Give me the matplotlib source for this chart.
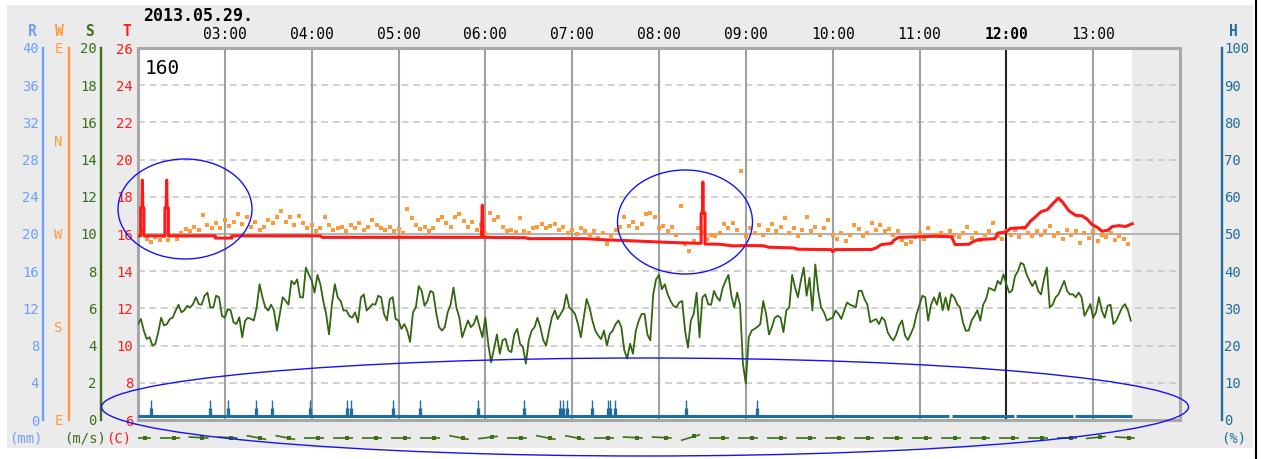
import numpy as np
import matplotlib
matplotlib.use('Agg')
import matplotlib.pyplot as plt
from matplotlib.patches import Ellipse, Rectangle
from matplotlib.lines import Line2D

plt.rcParams['font.family'] = ['DejaVu Sans Mono', 'DejaVu Sans']

W, H = 1261, 459


def fx(px):
    return px / W


def fy(py):
    return 1 - py / H


# ---------------- data ----------------
date_text = '2013.05.29.'
station_id = '160'
hour_pos = [3, 4, 5, 6, 7, 8, 9, 10, 11, 12, 13]
hour_labels = ['03:00', '04:00', '05:00', '06:00', '07:00', '08:00',
               '09:00', '10:00', '11:00', '12:00', '13:00']
x_start, x_end = 2.0, 14.0
data_end = 13.45

# wind speed (m/s): readings on the 4-min marks from 02:00 ...
speed_step_min = 4
wind_speed_a = [5.16, 4.81, 4.45, 4.1, 5.5, 5.16, 5.5, 6.2, 5.9, 6.05,
                6.6, 6.2, 6.85, 6.05, 6.6, 5.5, 5.9, 5.16, 4.45, 5.5,
                5.35, 7.3, 6.05, 6.2, 4.81, 6.6, 6.2, 7.3, 6.6, 8.2,
                7.5, 7.8, 6.4, 4.6, 7.3,
                6.4, 5.9, 5.5, 5.25, 6.75, 6.05, 6.2, 6.6, 5.35, 6.6,
                5.35, 5.16, 4.2, 6.05, 6.95, 6.4, 6.85, 5.0, 5.0, 6.2,
                6.05, 4.45, 5.35, 5.16, 5.0, 5.5, 3.1, 4.6, 4.3, 3.75,
                4.6, 4.1, 3.03, 4.8,
                5.5, 4.3, 4.8, 5.9, 5.7, 6.75, 5.9, 5.16, 5.5, 6.05,
                4.8, 4.35, 4.0, 4.8, 5.35, 3.75, 4.1, 4.8, 5.7, 4.6,
                6.75, 7.8, 7.3, 6.4, 6.05, 6.4, 3.9, 5.7, 4.45, 6.75,
                6.2, 6.6, 7.1, 7.8, 6.05,
                6.2, 1.95, 4.8, 5.0, 6.4, 4.6, 5.5, 5.5, 5.9, 7.8,
                6.6, 8.2, 7.65, 8.36, 6.05, 5.35, 5.5, 5.7, 5.9, 6.2,
                6.05, 6.95, 6.2, 5.35, 5.16, 5.35, 4.45, 4.6, 5.35, 4.3,
                5.0, 6.2, 6.6, 6.2,
                6.2, 5.9, 5.9, 6.6, 6.05, 4.8, 5.35, 5.9, 6.2, 7.1,
                6.95, 7.3, 7.3, 6.95, 8.0, 8.36, 7.48, 7.48, 6.75, 8.2,
                6.2, 6.75, 7.48, 6.75, 6.6, 6.6, 5.9, 5.5, 6.6, 5.5,
                6.2, 5.35, 6.05, 5.9]
# ... and the readings 2 min after each of them
wind_speed_b = [5.43, 4.36, 4.0, 4.72, 5.08, 5.43, 5.88, 5.79, 6.14, 6.23,
                6.23, 6.68, 6.05, 6.68, 5.6, 5.96, 5.25, 5.52, 5.34, 5.43,
                6.05, 6.59, 5.88, 5.88, 5.7, 6.41, 7.48, 7.56, 6.59, 7.83,
                6.85, 7.3, 5.7, 6.23, 6.59,
                5.88, 5.6, 5.79, 6.59, 5.88, 6.23, 6.68, 5.7, 6.5, 5.43,
                4.9, 4.81, 5.79, 7.2, 6.14, 6.94, 5.79, 4.81, 5.79, 7.12,
                5.52, 4.9, 4.99, 5.6, 4.45, 4.1, 3.83, 3.56, 4.36, 3.65,
                4.9, 3.92, 4.28, 4.99,
                4.99, 4.0, 5.52, 5.43, 5.96, 6.05, 5.7, 4.45, 6.5, 5.34,
                4.54, 4.81, 4.63, 5.16, 4.99, 3.3, 3.56, 5.34, 5.7, 4.28,
                7.56, 7.03, 6.76, 6.14, 6.32, 4.81, 5.34, 6.85, 6.59, 6.23,
                6.94, 6.41, 7.48, 6.68, 6.85,
                3.03, 4.45, 4.9, 5.16, 5.7, 4.99, 5.6, 4.72, 6.05, 7.12,
                7.48, 6.68, 5.88, 6.94, 5.79, 5.43, 5.88, 5.43, 6.32, 6.14,
                6.94, 6.5, 5.25, 5.43, 5.52, 4.72, 4.28, 5.08, 4.54, 4.63,
                5.7, 6.68, 5.34, 6.59,
                6.85, 6.59, 6.76, 6.23, 5.25, 4.81, 5.6, 5.34, 6.5, 7.03,
                7.48, 7.83, 6.85, 7.74, 8.45, 7.83, 7.2, 6.94, 7.56, 6.05,
                6.59, 7.12, 6.94, 6.76, 6.85, 5.6, 6.23, 5.79, 5.88, 6.14,
                5.16, 5.7, 6.23, 5.34]

# wind direction (deg), one reading every 3 min from 02:00
dir_step_min = 3
wind_dir = [271, 274, 265, 262, 267, 264, 268, 264, 269, 265,
            271, 275, 273, 277, 274, 288, 279, 276, 281, 276,
            284, 278, 282, 289, 280, 286, 277, 282, 274, 277,
            284, 281, 286, 292, 282, 286, 279, 287, 281, 276,
            279, 273, 276, 286, 279, 274,
            276, 277, 273, 279, 276, 281, 274, 277, 284, 279,
            276, 274, 277, 273, 275, 271, 294, 285, 279, 275,
            277, 273, 276, 284, 286, 281, 277, 286, 289, 283,
            277, 282, 274, 279, 271, 290, 284, 286, 277, 273,
            274, 272, 285, 273, 271, 276,
            277, 280, 276, 278, 280, 274, 277, 271, 274, 270,
            276, 273, 269, 273, 266, 271, 260, 268, 274, 277,
            286, 278, 282, 276, 280, 289, 290, 286, 276, 278,
            273, 277, 269, 297, 260, 254, 263, 276, 271, 265,
            269, 268, 271, 280, 276, 281,
            274, 331, 268, 276, 271, 279, 269, 274, 280, 273,
            277, 285, 271, 276, 268, 274, 286, 273, 277, 269,
            276, 284, 269, 265, 271, 263, 269, 279, 275, 268,
            271, 281, 274, 279, 273, 275, 269, 273, 264, 260,
            262, 267, 271, 265, 276, 269,
            269, 271, 268, 273, 269, 267, 271, 277, 266, 271,
            264, 269, 273, 281, 268, 265, 273, 269, 274, 267,
            276, 271, 268, 273, 269, 273, 278, 268, 271, 265,
            274, 269, 273, 261, 271, 266, 273, 263, 269, 267,
            271, 264, 268, 265, 260]

# temperature (C)
temp_t = [2.00, 2.03, 2.03, 2.045, 2.05, 2.055, 2.068, 2.068,
          2.31, 2.31, 2.325, 2.33, 2.335, 2.35, 2.35,
          2.89, 2.89, 3.08, 3.08, 4.10, 4.12,
          5.955, 5.965, 5.975,
          6.46, 6.5, 7.15, 7.4, 7.6, 7.75, 8.1, 8.45,
          8.485, 8.485, 8.5, 8.505, 8.51, 8.53, 8.53,
          8.7, 8.85, 9.0, 9.2, 9.26, 9.55, 9.6, 9.98, 10.0, 10.03,
          10.45, 10.5, 10.56, 10.68, 10.7, 10.76, 11.18, 11.37, 11.41, 11.57,
          11.62, 11.68, 11.87, 11.9, 11.99, 12.05, 12.22, 12.28, 12.33, 12.4,
          12.47, 12.55, 12.6, 12.65, 12.72, 12.8, 12.87, 12.93, 12.99, 13.05,
          13.1, 13.17, 13.22, 13.3, 13.37, 13.45]
temp_v = [15.9, 15.9, 17.4, 17.4, 18.9, 17.4, 17.4, 15.9,
          15.9, 17.4, 17.4, 18.9, 17.4, 17.4, 15.9,
          15.9, 15.78, 15.78, 15.9, 15.9, 15.82,
          15.82, 17.55, 15.82,
          15.8, 15.75, 15.75, 15.68, 15.65, 15.62, 15.55, 15.5,
          15.5, 17.12, 17.12, 18.8, 17.12, 17.12, 15.46,
          15.45, 15.36, 15.38, 15.37, 15.29, 15.25, 15.18, 15.16, 15.05, 15.16,
          15.17, 15.25, 15.43, 15.5, 15.65, 15.82, 15.88, 15.85, 15.43, 15.45,
          15.6, 15.7, 15.75, 16.05, 16.1, 16.3, 16.35, 16.7, 16.9, 17.2,
          17.3, 17.7, 17.93, 17.7, 17.25, 17.0, 16.98, 16.8, 16.5, 16.35,
          16.15, 16.2, 16.4, 16.45, 16.4, 16.55]

# humidity (%)
hum_base = 1.0
hum_seg_start = [2.0, 11.37, 12.11, 12.79]
hum_seg_end = [11.34, 12.09, 12.77, 13.45]
hum_spike_t = [2.15, 2.83, 3.04, 3.36, 3.54, 3.98, 4.41, 4.45, 4.94, 5.25,
               5.92, 6.45, 6.86, 6.90, 6.94, 7.23, 7.41, 7.44, 7.49, 8.31, 9.13]
hum_spike_mid = 3.2
hum_spike_top = 5.3

# wind arrows every 20 min (direction in deg)
arrow_start = 2.03
arrow_step_min = 20
arrow_dir = [270, 270, 273, 273, 281, 281, 270, 270, 270, 270,
             270, 281, 263, 270, 281, 281, 270, 273, 273, 253,
             270, 270, 270, 270, 270, 270, 270, 270, 270, 270,
             270, 270, 270, 264, 273]

# ---------------- colours ----------------
C_R = '#6e9eff'
C_W = '#ff9a3c'
C_S = '#3a6f18'
C_T = '#ff1a1a'
C_H = '#1f6e9e'
BG = '#ebebeb'

fig = plt.figure(figsize=(W / 100, H / 100), dpi=100)
fig.patch.set_facecolor('white')
fig.add_artist(Rectangle((fx(7), fy(448)), fx(1253) - fx(7), fy(5) - fy(448),
                         transform=fig.transFigure, facecolor=BG,
                         edgecolor='none', zorder=-10))
fig.add_artist(Line2D([fx(1256), fx(1256)], [0, 1], transform=fig.transFigure,
                      color='black', lw=1.5))

# main axes (temperature scale)
ax = fig.add_axes([fx(138), fy(420), fx(1180) - fx(138), fy(48) - fy(420)])
ax.set_xlim(x_start, x_end)
ax.set_ylim(6, 26)
ax.set_facecolor('white')
ax.axvspan(data_end, x_end, color=BG, lw=0, zorder=0)
for v in range(8, 26, 2):
    if v == 16:
        ax.axhline(v, color='#b4b4b4', lw=1.5, zorder=1)
    else:
        ax.axhline(v, color='#c4c4c4', lw=1.1, ls=(0, (4.5, 3)), zorder=1)
for h in hour_pos:
    ax.axvline(h, color='#222222' if h == 12 else '#a0a0a0', lw=1.5, zorder=1)
for s in ax.spines.values():
    s.set_color('#a8a8a8')
    s.set_linewidth(2.2)
ax.set_yticks(range(6, 27, 2))
ax.tick_params(axis='y', length=0, pad=3.6, labelcolor=C_T, labelsize=10)
ax.set_xticks(hour_pos, hour_labels)
ax.xaxis.tick_top()
ax.tick_params(axis='x', length=0, pad=4, labelsize=10.5)
ax.get_xticklabels()[hour_pos.index(12)].set_fontweight('bold')


def twin(ylim):
    t = ax.twinx()
    t.set_ylim(*ylim)
    t.patch.set_visible(False)
    for sp in t.spines.values():
        sp.set_visible(False)
    t.set_yticks([])
    return t


def side_axis(ylim, side, offset_px, color, ticks, labels, pad_px):
    t = twin(ylim)
    sp = t.spines[side]
    sp.set_visible(True)
    sp.set_position(('outward', offset_px * 0.72))
    sp.set_color(color)
    sp.set_linewidth(1.7)
    if side == 'left':
        t.yaxis.tick_left()
    else:
        t.yaxis.tick_right()
    t.set_yticks(ticks, labels)
    t.tick_params(axis='y', length=0, pad=pad_px * 0.72, labelcolor=color,
                  labelsize=10)
    return t


axR = side_axis((0, 40), 'left', 95, C_R, range(0, 41, 4),
                [str(v) for v in range(0, 41, 4)], 4)
axH = side_axis((0, 100), 'right', 42, C_H, range(0, 101, 10),
                [str(v) for v in range(0, 101, 10)], 2)
axS = side_axis((0, 20), 'left', 37, C_S, range(0, 21, 2),
                [str(v) for v in range(0, 21, 2)], 4.3)
axW = side_axis((90, 450), 'left', 69, C_W, [90, 180, 270, 360, 450],
                ['E', 'S', 'W', 'N', 'E'], 6.5)
axT = twin((6, 26))

# humidity
for a, b in zip(hum_seg_start, hum_seg_end):
    axH.plot([a, b], [hum_base, hum_base], color=C_H, lw=2.2,
             solid_capstyle='butt')
axH.vlines(hum_spike_t, hum_base, hum_spike_mid, color=C_H, lw=2.4)
axH.vlines(hum_spike_t, hum_base, hum_spike_top, color=C_H, lw=1.0)

# wind speed: merge both reading sets in time order
t_a = x_start + np.arange(len(wind_speed_a)) * speed_step_min / 60
t_b = t_a + speed_step_min / 2 / 60
t_speed = np.column_stack([t_a, t_b]).ravel()
v_speed = np.column_stack([wind_speed_a, wind_speed_b]).ravel()
axS.plot(t_speed, v_speed, color='#336611', lw=1.3)

# wind direction
t_dir = x_start + np.arange(len(wind_dir)) * dir_step_min / 60
axW.scatter(t_dir, wind_dir, marker='s', s=9, color=C_W, linewidths=0)

# temperature
axT.plot(temp_t, temp_v, color=C_T, lw=2.2)

# axis titles and units
for txt, px, col in [('R', 32, C_R), ('W', 59, C_W), ('S', 90, C_S),
                     ('T', 127, C_T), ('H', 1233, C_H)]:
    fig.text(fx(px), fy(32), txt, color=col, fontweight='bold', ha='center',
             va='center', fontsize=10.5)
fig.text(fx(26), fy(438), '(mm)', color=C_R, ha='center', va='center', fontsize=10)
fig.text(fx(85), fy(438), '(m/s)', color=C_S, ha='center', va='center', fontsize=10)
fig.text(fx(119), fy(438), '(C)', color=C_T, ha='center', va='center', fontsize=10)
fig.text(fx(1234), fy(438), '(%)', color=C_H, ha='center', va='center', fontsize=10)

fig.text(fx(143), fy(16), date_text, fontweight='bold', fontsize=12,
         ha='left', va='center')
fig.text(fx(145), fy(69), station_id, fontsize=14, ha='left', va='center')

# wind arrows strip
axA = fig.add_axes([fx(138), fy(447), fx(1180) - fx(138), fy(428) - fy(447)])
axA.set_xlim(x_start, x_end)
axA.set_ylim(-9.5, 9.5)
axA.axis('off')
sx = (x_end - x_start) / 1042.0
L = 10
for k, d in enumerate(arrow_dir):
    t0 = arrow_start + k * arrow_step_min / 60
    to = np.radians(d + 180)
    ux, uy = np.sin(to), np.cos(to)
    axA.plot([t0 - L * ux * sx, t0 + L * ux * sx], [-L * uy, L * uy],
             color=C_S, lw=1.2, solid_capstyle='butt')
    axA.plot(t0 + 0.4 * L * ux * sx, 0.4 * L * uy, marker='s', ms=3.2,
             color=C_S, mew=0)

# hand-drawn highlight ellipses
for cx, cy, w, h in [(185, 209, 134, 100), (685, 222, 135, 104),
                     (645, 407, 1087, 98)]:
    fig.add_artist(Ellipse((fx(cx), fy(cy)), w / W, h / H,
                           transform=fig.transFigure, fill=False,
                           edgecolor='#1414f0', lw=1.0, zorder=10))

fig.savefig('out.png', dpi=100)
